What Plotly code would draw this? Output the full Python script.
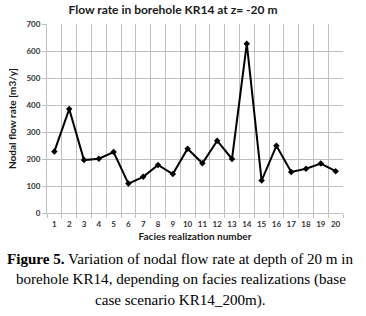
import plotly.graph_objects as go

realizations = list(range(1, 21))
flow_rate = [228, 385, 196, 201, 226, 109, 134, 178, 144, 238,
             184, 268, 200, 627, 120, 249, 152, 164, 183, 155]
y_ticks = [0, 100, 200, 300, 400, 500, 600, 700]
caption_lines = [
    "<b>Figure 5.</b> Variation of nodal flow rate at depth of 20 m in",
    "borehole KR14, depending on facies realizations (base",
    "case scenario KR14_200m).",
]

fig = go.Figure()
fig.add_trace(go.Scatter(
    x=realizations, y=flow_rate, mode="lines+markers",
    line=dict(color="black", width=2),
    marker=dict(symbol="diamond", size=5, color="black"),
    showlegend=False,
))

grid = "#c0c0c0"
fig.update_layout(
    width=366, height=316,
    margin=dict(l=42, r=23, t=24, b=103),
    paper_bgcolor="white", plot_bgcolor="white",
    font=dict(family="Lato, sans-serif", color="#333333"),
    title=dict(text="<b>Flow rate in borehole KR14 at z= -20 m</b>",
               x=173/366, xanchor="center", y=1-10/316, yanchor="middle",
               font=dict(size=12, color="#1a1a1a")),
    xaxis=dict(
        range=[0.5, 20.5], tickvals=realizations,
        ticktext=[f"<b>{v}</b>" for v in realizations],
        showgrid=False, zeroline=False, ticks="",
        ticklabelstandoff=3,
        tickfont=dict(size=8, color="#333333"),
        showline=True, linecolor=grid, linewidth=1,
        minor=dict(tickvals=[v - 0.5 for v in realizations] + [20.5],
                   showgrid=True, gridcolor=grid, gridwidth=1,
                   ticks="outside", ticklen=4, tickcolor=grid),
        title=dict(text="<b>Facies realization number</b>",
                   font=dict(size=10, color="#1a1a1a"), standoff=5),
    ),
    yaxis=dict(
        range=[0, 700], tickvals=y_ticks,
        ticktext=[f"<b>{v}</b>" for v in y_ticks],
        showgrid=True, gridcolor=grid, gridwidth=1, zeroline=False,
        ticks="outside", ticklen=4, tickcolor=grid,
        tickfont=dict(size=8, color="#333333"),
        showline=True, linecolor=grid, linewidth=1,
        title=dict(text="<b>Nodal flow rate [m3/y]</b>",
                   font=dict(size=10, color="#1a1a1a"), standoff=7),
    ),
)

for i, line in enumerate(caption_lines):
    fig.add_annotation(
        text=line, xref="paper", yref="paper",
        x=(178 - 42) / 301, y=0, showarrow=False,
        xanchor="center", yanchor="middle",
        font=dict(family="Liberation Serif, Times New Roman, serif", size=15.1, color="black"),
        yshift=-(46 + 20.5 * i),
    )

fig.write_html("out.html", config={"displayModeBar": False},
               post_script="document.body.style.margin='0';")
